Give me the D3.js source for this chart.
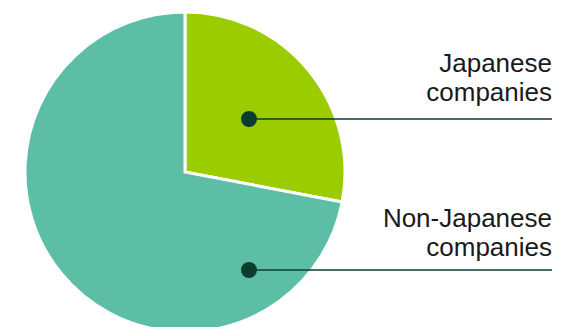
<!DOCTYPE html>
<html>
<head>
<meta charset="utf-8">
<script src="https://cdn.jsdelivr.net/npm/d3@7"></script>
<style>
  html, body { margin: 0; padding: 0; background: #fff; }
  svg { display: block; }
</style>
</head>
<body>
<svg id="chart" width="565" height="327"></svg>
<script>
// Share of companies (%)
const categories = ["Japanese companies", "Non-Japanese companies"];
const labelLines = [["Japanese", "companies"], ["Non-Japanese", "companies"]];
const shares = [28, 72];
const colors = ["#9bcc00", "#5dbea6"];

const svg = d3.select("#chart");
const cx = 185, cy = 172, radius = 160;

const pie = d3.pie().sort(null).value(d => d)(shares);
const arc = d3.arc().innerRadius(0).outerRadius(radius);

const g = svg.append("g").attr("transform", `translate(${cx},${cy})`);
g.selectAll("path.slice")
  .data(pie)
  .join("path")
  .attr("class", "slice")
  .attr("d", arc)
  .attr("fill", (d, i) => colors[i])
  .attr("stroke", "#fff")
  .attr("stroke-width", 3)
  .attr("stroke-linejoin", "miter");

// Callout markers: dot inside each slice, leader line to the right edge
const markerY = [119, 270];
const labelBaseline = [72, 227];
const markerX = 249;
const lineEnd = 552;
const dark = "#0b3d2e";

categories.forEach((c, i) => {
  svg.append("line")
    .attr("x1", markerX).attr("x2", lineEnd)
    .attr("y1", markerY[i]).attr("y2", markerY[i])
    .attr("stroke", dark).attr("stroke-width", 1.5);
  svg.append("circle")
    .attr("cx", markerX).attr("cy", markerY[i]).attr("r", 8)
    .attr("fill", dark);
  const t = svg.append("text")
    .attr("text-anchor", "end")
    .style("font-family", "'Liberation Sans', Arial, Helvetica, sans-serif")
    .style("font-size", "26px")
    .attr("fill", "#1a1a1a");
  labelLines[i].forEach((ln, j) => {
    t.append("tspan")
      .attr("x", lineEnd)
      .attr("y", labelBaseline[i] + j * 28.5)
      .text(ln);
  });
});
</script>
</body>
</html>
